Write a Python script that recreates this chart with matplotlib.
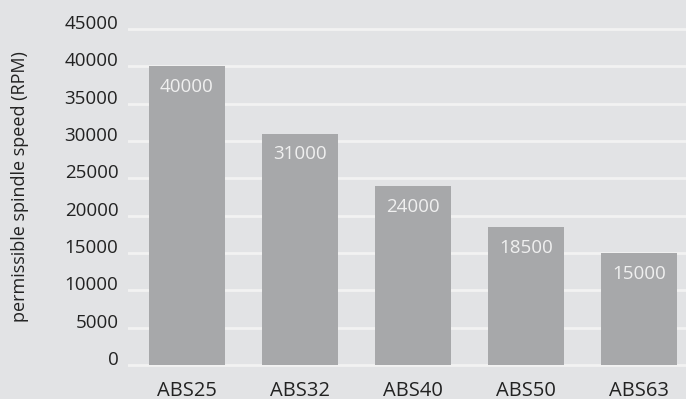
import matplotlib
matplotlib.use("Agg")
import matplotlib.pyplot as plt

# data
models = ["ABS25", "ABS32", "ABS40", "ABS50", "ABS63"]
speeds = [40000, 31000, 24000, 18500, 15000]
yticks = list(range(0, 45001, 5000))

bg = "#e2e3e5"
bar_col = "#a7a8aa"

plt.rcParams["font.family"] = ["Open Sans", "DejaVu Sans"]

fig = plt.figure(figsize=(6.86, 3.99), dpi=100, facecolor=bg)
ax = fig.add_axes([128 / 686, 31 / 399, 558 / 686, 346.5 / 399], facecolor=bg)

x = list(range(len(models)))
bars = ax.bar(x, speeds, width=0.67, color=bar_col, zorder=2)

for xi, v in zip(x, speeds):
    ax.annotate(str(v), (xi, v), xytext=(0, -15), textcoords="offset points",
                ha="center", va="center", color="#f0f0f0", fontsize=13.5, zorder=3)

ax.set_xlim(-0.522, 4.416)
ax.set_ylim(-400, 46000)
ax.set_yticks(yticks)
ax.set_yticklabels([str(t) for t in yticks], fontsize=13.5, color="#222222")
ax.set_xticks(x)
ax.set_xticklabels(models, fontsize=14.5, color="#222222")
ax.tick_params(axis="both", length=0)
ax.tick_params(axis="y", pad=7)
ax.tick_params(axis="x", pad=9)

# tick labels sit just above their gridlines
for lab in ax.get_yticklabels():
    lab.set_va("baseline")

ax.yaxis.grid(True, color="#f2f2f2", linewidth=2)
ax.set_axisbelow(True)
for s in ax.spines.values():
    s.set_visible(False)

ax.set_ylabel("permissible spindle speed (RPM)", fontsize=13, color="#222222")
ax.yaxis.set_label_coords(-(128 - 29) / 558, (368 - 187) / 346.5)

fig.savefig("out.png", dpi=100, facecolor=bg)
